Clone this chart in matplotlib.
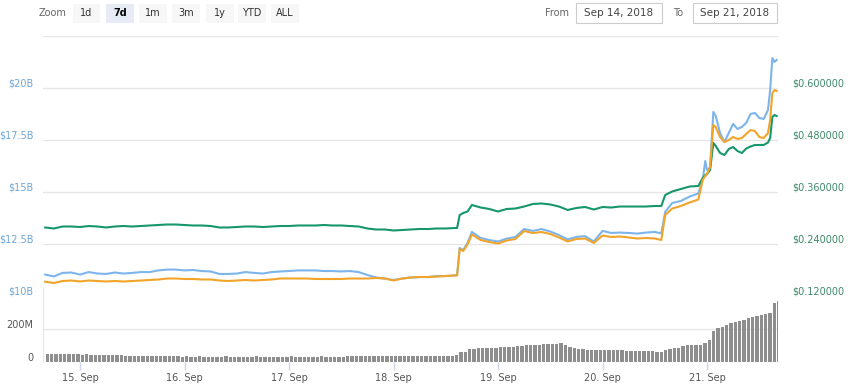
import matplotlib
matplotlib.use("Agg")
import matplotlib.pyplot as plt
from matplotlib.patches import Rectangle
from datetime import datetime, timedelta

# ---------------- data ----------------
start = datetime(2018, 9, 14, 16, 0)

hours = [0, 2, 4, 6, 8, 10, 12, 14, 16, 18, 20, 22, 24, 26, 28, 30, 32, 34, 36, 38,
         40, 42, 44, 46, 48, 50, 52, 54, 56, 58, 60, 62, 64, 66, 68, 70, 72, 74, 76, 78,
         80, 82, 84, 86, 88, 90, 92, 94, 94.6, 95.2, 96, 97, 98, 100, 102, 104, 106, 108,
         110, 112, 114, 116, 118, 120, 122, 124, 126, 128, 130, 132, 134, 136, 138, 140,
         141.5, 142.4, 144, 146, 148, 150, 151, 151.6, 152, 152.7, 153.45, 154, 155, 156,
         157, 158, 159, 160, 161, 162, 163, 164, 165, 166, 166.5, 167, 167.5, 168]

market_cap_b = [11.03, 10.94, 11.11, 11.13, 11.03, 11.15, 11.08, 11.06, 11.13, 11.08,
                11.11, 11.15, 11.15, 11.23, 11.27, 11.27, 11.23, 11.25, 11.20, 11.18,
                11.06, 11.06, 11.08, 11.15, 11.11, 11.08, 11.15, 11.18, 11.20, 11.23,
                11.23, 11.23, 11.20, 11.20, 11.18, 11.20, 11.15, 11.01, 10.89, 10.84,
                10.77, 10.84, 10.89, 10.91, 10.91, 10.96, 10.96, 10.99, 11.01, 12.31,
                12.21, 12.55, 13.08, 12.79, 12.69, 12.62, 12.76, 12.84, 13.22, 13.13,
                13.22, 13.10, 12.93, 12.72, 12.84, 12.88, 12.62, 13.13, 13.03, 13.05,
                13.03, 13.00, 13.05, 13.08, 13.01, 14.05, 14.47, 14.57, 14.78, 14.93,
                15.58, 16.49, 16.06, 16.15, 18.85, 18.65, 17.84, 17.40, 17.84, 18.27,
                18.03, 18.13, 18.32, 18.75, 18.80, 18.56, 18.51, 18.94, 19.90, 21.44,
                21.25, 21.35]

price_usd = [0.2781, 0.2758, 0.2804, 0.2804, 0.2792, 0.2815, 0.2804, 0.2781, 0.2804, 0.2815,
             0.2804, 0.2815, 0.2827, 0.2838, 0.2850, 0.2850, 0.2838, 0.2827, 0.2827, 0.2815,
             0.2781, 0.2781, 0.2792, 0.2804, 0.2804, 0.2792, 0.2804, 0.2815, 0.2815, 0.2827,
             0.2827, 0.2827, 0.2838, 0.2827, 0.2827, 0.2815, 0.2804, 0.2758, 0.2735, 0.2735,
             0.2712, 0.2723, 0.2735, 0.2746, 0.2746, 0.2758, 0.2758, 0.2769, 0.2769, 0.3069,
             0.3115, 0.3150, 0.3300, 0.3242, 0.3208, 0.3150, 0.3208, 0.3219, 0.3265, 0.3323,
             0.3335, 0.3312, 0.3265, 0.3185, 0.3231, 0.3254, 0.3196, 0.3254, 0.3242, 0.3265,
             0.3265, 0.3265, 0.3265, 0.3277, 0.3277, 0.3531, 0.3612, 0.3669, 0.3727, 0.3738,
             0.3923, 0.3992, 0.4015, 0.4108, 0.4731, 0.4662, 0.4500, 0.4454, 0.4592, 0.4638,
             0.4546, 0.4500, 0.4604, 0.4650, 0.4685, 0.4685, 0.4685, 0.4742, 0.4846, 0.5331,
             0.5377, 0.5354]

price_btc_sat = [4186, 4160, 4200, 4210, 4190, 4210, 4200, 4190, 4200, 4190,
                 4200, 4210, 4220, 4230, 4250, 4250, 4240, 4240, 4230, 4230,
                 4210, 4200, 4210, 4220, 4210, 4220, 4230, 4250, 4250, 4250,
                 4250, 4240, 4240, 4240, 4240, 4250, 4250, 4250, 4260, 4250,
                 4210, 4250, 4270, 4280, 4280, 4290, 4300, 4310, 4310, 4840,
                 4800, 4930, 5130, 5020, 4980, 4950, 5010, 5040, 5200, 5160,
                 5180, 5140, 5070, 4990, 5040, 5050, 4960, 5110, 5080, 5090,
                 5070, 5050, 5060, 5050, 5020, 5520, 5650, 5700, 5770, 5830,
                 6220, 6300, 6340, 6480, 7320, 7280, 7080, 6980, 7020, 7080,
                 7040, 7060, 7140, 7220, 7200, 7080, 7060, 7160, 7420, 7960,
                 8020, 8000]

# hourly 24h volume (millions USD)
volume_m = ([47, 47, 46, 47, 46, 46, 47, 46, 45, 46]
            + [43, 42, 42, 43, 42, 41, 42, 41]
            + [39, 38, 38, 39, 38, 38, 37, 38, 38, 37, 36]
            + [34, 34, 33, 34, 33, 33, 34, 33, 33, 32, 33, 33, 34, 33, 33, 32, 33, 33, 33, 34, 33, 32,
               33, 33, 33, 32, 33, 34, 33, 33, 32, 33, 33, 33, 34, 33, 33, 32, 33, 33, 34, 34, 35, 35]
            + [37, 37, 38, 38, 37, 38, 38, 39, 38, 38, 38, 37, 38, 38, 38, 39, 38, 38, 38, 37, 38]
            + [45, 60, 63, 76, 80, 83, 83, 84, 87, 87, 88, 92, 93, 93, 94, 94, 101, 103, 103, 104,
               108, 109, 109, 110, 117, 104, 90, 84, 78, 77, 74, 73, 73, 73, 74, 73, 73, 72, 72,
               68, 67, 67, 67, 67, 66, 66, 62, 61, 75, 78, 85, 87, 100, 102, 103, 103, 104, 113,
               133, 185, 205, 214, 224, 238, 241, 248, 254, 268, 271, 278, 285, 292, 300, 356, 368])

left_ticks = [10, 12.5, 15, 17.5, 20]
left_labels = ["$10B", "$12.5B", "$15B", "$17.5B", "$20B"]
right_ticks = [0.12, 0.24, 0.36, 0.48, 0.60]
right_labels = ["$0.120000", "$0.240000", "$0.360000", "$0.480000", "$0.600000"]
vol_ticks = [0, 200]
vol_labels = ["0", "200M"]
day_ticks = [datetime(2018, 9, d) for d in range(15, 22)]
day_labels = [f"{d}. Sep" for d in range(15, 22)]
zoom_buttons = ["1d", "7d", "1m", "3m", "1y", "YTD", "ALL"]
date_from, date_to = "Sep 14, 2018", "Sep 21, 2018"

# ---------------- styling ----------------
C_BLUE = "#7cb5ec"
C_GREEN = "#16976b"
C_ORANGE = "#f2a42a"
C_GRID = "#e6e6e6"
C_BAR = "#8e8e8e"

W, H = 850, 387
fig = plt.figure(figsize=(W / 100, H / 100), dpi=100)
fig.patch.set_facecolor("white")

def fx(px):
    return px / W

def fy(py):
    return 1 - py / H

L, R = 43, 778
ax = fig.add_axes([fx(L), fy(296), (R - L) / W, 260 / H])
axv = fig.add_axes([fx(L), fy(362), (R - L) / W, 74 / H])
ax_r = ax.twinx()
ax_o = ax.twinx()

times = [start + timedelta(hours=h) for h in hours]
x0 = start - timedelta(hours=0.5)
x1 = start + timedelta(hours=168.3)

ax.set_ylim(10, 22.5)
ax_r.set_ylim(0.12, 0.72)
ax_o.set_ylim(3900, 9100)
for a in (ax, ax_r, ax_o, axv):
    a.set_xlim(x0, x1)
    for s in a.spines.values():
        s.set_visible(False)
    a.set_xticks([])
    a.set_yticks([])

# gridlines (shared pixel rows for both price axes)
for v in left_ticks + [22.5]:
    ax.axhline(v, color=C_GRID, lw=1, zorder=0)

ax.plot(times, market_cap_b, color=C_BLUE, lw=1.5, solid_joinstyle="round")
ax_r.plot(times, price_usd, color=C_GREEN, lw=1.5, solid_joinstyle="round")
ax_o.plot(times, price_btc_sat, color=C_ORANGE, lw=1.5, solid_joinstyle="round")

for v, t in zip(left_ticks, left_labels):
    ax.annotate(t, xy=(0, v), xycoords=("axes fraction", "data"), xytext=(-7, 3),
                textcoords="offset points", ha="right", va="center",
                fontsize=7, color="#6fa6d6")
for v, t in zip(right_ticks, right_labels):
    ax_r.annotate(t, xy=(1, v), xycoords=("axes fraction", "data"), xytext=(10, 3.5),
                  textcoords="offset points", ha="left", va="center",
                  fontsize=7, color="#3d8a68")

# volume panel
vol_times = [start + timedelta(hours=i + 0.5) for i in range(len(volume_m))]
axv.set_ylim(0, 448.5)
axv.axhline(200, color=C_GRID, lw=1, zorder=0)
axv.bar(vol_times, volume_m, width=0.77 / 24, color=C_BAR, zorder=2, linewidth=0)
axv.spines["left"].set_visible(True)
axv.spines["left"].set_color(C_GRID)
for v, t in zip(vol_ticks, vol_labels):
    axv.annotate(t, xy=(0, v), xycoords=("axes fraction", "data"), xytext=(-7, 3),
                 textcoords="offset points", ha="right", va="center",
                 fontsize=7, color="#555555")
axv.set_xticks(day_ticks)
axv.set_xticklabels(day_labels)
axv.tick_params(axis="x", length=6, width=1, color="#ccd6eb", labelsize=7,
                labelcolor="#555555", pad=2)

# ---------------- top controls ----------------
fig.text(fx(53), fy(13), "Zoom", fontsize=7, color="#666666", ha="center", va="center")
btn_boxes = [(73, 100), (106, 134), (139, 167), (172, 200), (206, 234), (238, 266), (271, 299)]
for lab, (a, b) in zip(zoom_buttons, btn_boxes):
    sel = lab == "7d"
    fig.patches.append(Rectangle((fx(a), fy(23)), (b - a) / W, 19 / H, transform=fig.transFigure,
                                 facecolor="#e6ebf5" if sel else "#f7f7f7", edgecolor="none"))
    fig.text(fx((a + b) / 2), fy(13), lab, fontsize=7, ha="center", va="center",
             color="#000000" if sel else "#333333", fontweight="bold" if sel else "normal")

fig.text(fx(557), fy(13), "From", fontsize=7, color="#666666", ha="center", va="center")
fig.text(fx(678), fy(13), "To", fontsize=7, color="#666666", ha="center", va="center")
for txt, (a, b) in zip([date_from, date_to], [(576, 662), (693, 777)]):
    fig.patches.append(Rectangle((fx(a), fy(23)), (b - a) / W, 20 / H, transform=fig.transFigure,
                                 facecolor="white", edgecolor="#cccccc", lw=0.8))
    fig.text(fx((a + b) / 2), fy(13), txt, fontsize=7.5, color="#444444", ha="center", va="center")

fig.savefig("out.png", dpi=100)
